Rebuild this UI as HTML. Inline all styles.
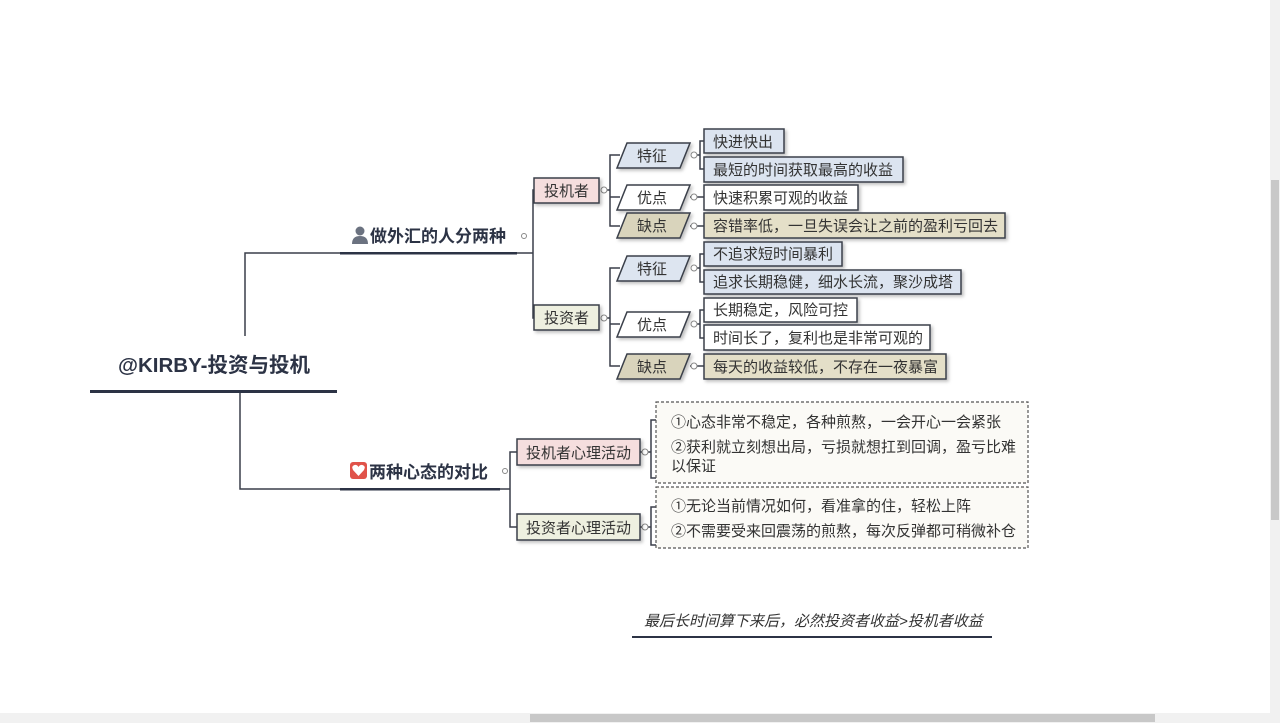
<!DOCTYPE html>
<html><head><meta charset="utf-8"><style>
html,body{margin:0;padding:0;background:#fff;width:1280px;height:723px;overflow:hidden}
svg{display:block}
text{font-family:"Liberation Sans","Noto Sans CJK SC",sans-serif;fill:#333}
</style></head><body>
<svg width="1280" height="723" viewBox="0 0 1280 723" xmlns="http://www.w3.org/2000/svg">
<defs>
<filter id="sh" x="-10%" y="-20%" width="130%" height="160%"><feDropShadow dx="2" dy="2" stdDeviation="1.5" flood-color="#000" flood-opacity="0.25"/></filter>
</defs>
<rect x="1270" y="0" width="10" height="713" fill="#f1f1f1"/>
<rect x="1271" y="180" width="8" height="340" fill="#c8c8c8"/>
<rect x="0" y="713" width="1280" height="10" fill="#f1f1f1"/>
<rect x="530" y="714" width="625" height="8" fill="#c8c8c8"/>

<g stroke="#3a3f4a" fill="none" stroke-width="1.5">
<path d="M245 336 V253 H340"/>
<path d="M240 392 V489 H340"/>
<path d="M517 253 H533 V190 H534 M533 253 V318 H534"/>
<path d="M604 190 H610 V155 H620 M610 190 V197 H620 M610 197 V226 H620"/>
<path d="M604 318 H610 V268 H620 M610 318 V324 H620 M610 324 V366 H620"/>
<path d="M694 155 H700 V141 H704 M700 155 V169 H704"/>
<path d="M690 197 H704 M690 226 H704"/>
<path d="M694 268 H700 V254 H704 M700 268 V282 H704"/>
<path d="M694 324 H700 V310 H704 M700 324 V338 H704"/>
<path d="M690 366 H704"/>
<path d="M500 489 H510 V452 H517 M510 489 V527 H517"/>
<path d="M640 452 H651 M661 420 H651 V478 H661"/>
<path d="M640 527 H651 M661 507 H651 V545 H661"/>
</g>
<rect x="90" y="390" width="247" height="3" fill="#2c3345"/>
<rect x="340" y="252" width="177" height="2.5" fill="#2c3345"/>
<rect x="340" y="488" width="160" height="2.5" fill="#2c3345"/>
<rect x="632" y="636" width="360" height="2" fill="#2c3345"/>
<g fill="#fff" stroke="#888" stroke-width="1">
<circle cx="524" cy="236" r="2.5"/><circle cx="604" cy="190" r="3"/><circle cx="604" cy="318" r="3"/>
<circle cx="694" cy="155" r="3"/><circle cx="694" cy="197" r="3"/><circle cx="694" cy="226" r="3"/>
<circle cx="694" cy="268" r="3"/><circle cx="694" cy="324" r="3"/><circle cx="694" cy="366" r="3"/>
<circle cx="505" cy="471" r="2.5"/><circle cx="645" cy="452" r="3"/><circle cx="645" cy="527" r="3"/>
</g>
<text x="214" y="372" font-size="20.5" font-weight="bold" text-anchor="middle" style="fill:#2c3345">@KIRBY-投资与投机</text>
<g fill="#6b7280"><circle cx="360" cy="231" r="4.5"/><path d="M352 244 Q352 236 360 236 Q368 236 368 244 Z"/></g>
<text x="370" y="242" font-size="17" font-weight="bold" style="fill:#2c3345">做外汇的人分两种</text>
<rect x="350" y="462" width="17" height="17" rx="3" fill="#e0534a"/>
<path d="M358.5 476 L353 470 Q351 466 354.5 465 Q357 464.5 358.5 467 Q360 464.5 362.5 465 Q366 466 364 470 Z" fill="#fff"/>
<text x="369" y="478" font-size="17" font-weight="bold" style="fill:#2c3345">两种心态的对比</text>
<g stroke="#3a3f4a" stroke-width="1.5" filter="url(#sh)">
<rect x="534" y="178" width="65" height="25" fill="#f5dede"/>
<rect x="534" y="305" width="65" height="25" fill="#eef0e0"/>
<rect x="517" y="439" width="123" height="26" fill="#f5dede"/>
<rect x="517" y="514" width="123" height="26" fill="#eef0e0"/>
</g>
<g font-size="15">
<text x="566.5" y="196" text-anchor="middle">投机者</text>
<text x="566.5" y="323" text-anchor="middle">投资者</text>
<text x="578.5" y="458" text-anchor="middle">投机者心理活动</text>
<text x="578.5" y="533" text-anchor="middle">投资者心理活动</text>
</g>
<g stroke="#3a3f4a" stroke-width="1.5" filter="url(#sh)">
<polygon points="627,143 690,143 680,168 617,168" fill="#dde5f0"/>
<polygon points="627,185 690,185 680,210 617,210" fill="#fff"/>
<polygon points="627,213 690,213 680,238 617,238" fill="#d9d4bc"/>
<polygon points="627,256 690,256 680,281 617,281" fill="#dde5f0"/>
<polygon points="627,312 690,312 680,337 617,337" fill="#fff"/>
<polygon points="627,354 690,354 680,379 617,379" fill="#d9d4bc"/>
</g>
<g font-size="15" text-anchor="middle">
<text x="652" y="161">特征</text><text x="652" y="203">优点</text><text x="652" y="231">缺点</text>
<text x="652" y="274">特征</text><text x="652" y="330">优点</text><text x="652" y="372">缺点</text>
</g>
<g stroke="#3a3f4a" stroke-width="1.5" filter="url(#sh)">
<rect x="704" y="129" width="80" height="24" fill="#dce4f0"/>
<rect x="704" y="157" width="199" height="25" fill="#dce4f0"/>
<rect x="704" y="185" width="154" height="25" fill="#fff"/>
<rect x="704" y="213" width="301" height="25" fill="#e4dfc8"/>
<rect x="704" y="242" width="138" height="24" fill="#dce4f0"/>
<rect x="704" y="270" width="257" height="24" fill="#dce4f0"/>
<rect x="704" y="298" width="153" height="24" fill="#fff"/>
<rect x="704" y="325" width="226" height="25" fill="#fff"/>
<rect x="704" y="354" width="242" height="25" fill="#e4dfc8"/>
</g>
<g font-size="15">
<text x="713" y="147">快进快出</text>
<text x="713" y="175">最短的时间获取最高的收益</text>
<text x="713" y="203">快速积累可观的收益</text>
<text x="713" y="231">容错率低，一旦失误会让之前的盈利亏回去</text>
<text x="713" y="259">不追求短时间暴利</text>
<text x="713" y="287">追求长期稳健，细水长流，聚沙成塔</text>
<text x="713" y="315">长期稳定，风险可控</text>
<text x="713" y="343">时间长了，复利也是非常可观的</text>
<text x="713" y="372">每天的收益较低，不存在一夜暴富</text>
</g>
<g fill="#fbfaf6" stroke="#555" stroke-width="1.2" stroke-dasharray="3,2">
<rect x="656" y="402" width="372" height="81"/>
<rect x="656" y="487" width="372" height="61"/>
</g>
<g font-size="15">
<text x="671" y="427">①心态非常不稳定，各种煎熬，一会开心一会紧张</text>
<text x="671" y="452">②获利就立刻想出局，亏损就想扛到回调，盈亏比难</text>
<text x="671" y="471">以保证</text>
<text x="671" y="511">①无论当前情况如何，看准拿的住，轻松上阵</text>
<text x="671" y="536">②不需要受来回震荡的煎熬，每次反弹都可稍微补仓</text>
</g>
<text x="644" y="626" font-size="15" font-style="italic">最后长时间算下来后，必然投资者收益&gt;投机者收益</text>
</svg>
</body></html>
